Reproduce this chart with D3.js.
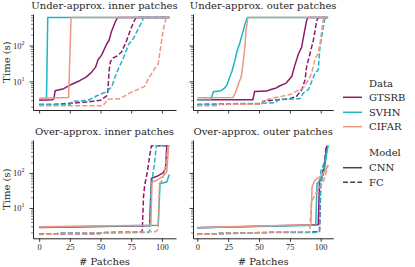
<!DOCTYPE html>
<html><head><meta charset="utf-8">
<script src="https://cdn.jsdelivr.net/npm/d3@7"></script>
<style>
html,body{margin:0;padding:0;background:#fff;}
svg{display:block;}
text{font-family:"DejaVu Serif",serif;fill:#262626;}
.tick text{font-family:"Liberation Serif",serif;}
</style></head>
<body><svg id="c" width="415" height="267"></svg>
<script>
// ---------- data ----------
const datasets = ["GTSRB", "SVHN", "CIFAR"];
const models = ["CNN", "FC"];
const panelTitles = ["Under-approx. inner patches", "Under-approx. outer patches",
                     "Over-approx. inner patches", "Over-approx. outer patches"];
const xTicks = [0, 25, 50, 75, 100];
const yMajorTicks = [10, 100];
const yTickExponents = ["1", "2"];
const legendTitles = ["Data", "Model"];

// [# patches, time (s)] breakpoints
const UI_GTSRB_CNN = [[0,3.0],[11,3.1],[12,3.3],[13,5.5],[20,6.3],[24,7.5],[27,8.5],[33,10.5],[38,13],[42,17],[46,25],[48,40],[51,55],[55,110],[57,140],[59,250],[62,450],[64,600],[106,600]];
const UI_GTSRB_FC  = [[0,2.3],[12,2.3],[20,2.4],[40,2.7],[50,3.0],[55,4.0],[56,5.3],[57,20],[58,35],[60,45],[63,50],[67,65],[71,130],[74,250],[77,450],[79,600],[106,600]];
const UI_SVHN_CNN  = [[0,3.2],[6,3.2],[7,600],[106,600]];
const UI_SVHN_FC   = [[0,2.3],[25,2.3],[27,2.8],[40,3.0],[47,4.0],[55,5.2],[59,7],[63,17],[69,48],[73,110],[76,140],[80,260],[84,480],[85,600],[106,600]];
const UI_CIFAR_CNN = [[0,3.4],[24,3.6],[26,600],[106,600]];
const UI_CIFAR_FC  = [[0,2.1],[52,2.1],[56,3.2],[66,3.3],[74,4.8],[86,7.3],[89,12],[95,25],[97,31],[99,90],[101,260],[103.5,600],[106,600]];

const UO_GTSRB_CNN = [[0,3.1],[45,3.1],[46.5,5.3],[56,5.4],[59,5.9],[64,6.6],[67,7.6],[72,9],[76.5,13.7],[79,28],[82,59],[84.5,89],[86.5,210],[88.5,480],[89.5,600],[106,600]];
const UO_GTSRB_FC  = [[0,2.3],[52,2.4],[53.5,2.85],[75,3.3],[80.5,3.9],[84.6,5.9],[87.3,11],[88.6,26],[91.3,59],[94,138],[95.4,258],[96.7,480],[98,600],[106,600]];
const UO_SVHN_CNN  = [[0,3.1],[11,3.2],[13,5.2],[19,5.5],[22,6.5],[24,8],[26.5,13.7],[28,19],[30.5,39],[32,66],[34.6,123],[36.5,210],[38.6,390],[40.5,600],[106,600]];
const UO_SVHN_FC   = [[0,2.3],[17,2.3],[18,2.4],[50,2.45],[64,2.6],[65.5,3.2],[83,3.3],[86,4.8],[90,5.9],[95.4,17],[98,21],[99.4,89],[100.8,170],[102,316],[103.5,600],[106,600]];
const UO_CIFAR_CNN = [[0,3.5],[29,3.6],[31,5],[34,10],[35.5,13],[37,30],[38.5,90],[39.5,260],[41,600],[106,600]];
const UO_CIFAR_FC  = [[0,2.1],[17,2.1],[18,2.3],[52,2.35],[53,2.85],[59,3.3],[75,4.3],[80,5.3],[86,6.6],[90,11],[92.7,17],[95.4,43],[98,59],[99.4,111],[100.8,258],[102,500],[103,600],[106,600]];

const OI_GTSRB_CNN = [[0,2.75],[90,3.1],[91.5,70],[96,80],[101,100],[103,135],[104,600],[106,600]];
const OI_GTSRB_FC  = [[0,1.8],[50,1.85],[52,2.0],[75,2.02],[84,2.1],[85,20],[86,45],[88,100],[90,300],[91.5,600],[106,600]];
const OI_SVHN_CNN  = [[0,2.8],[97,3.2],[98.5,50],[104,55],[106,90]];
const OI_SVHN_FC   = [[0,1.8],[14,1.82],[16,1.95],[50,1.97],[89,2.0],[90,2.2],[91,30],[92.5,80],[94,200],[95.5,600],[106,600]];
const OI_CIFAR_CNN = [[0,2.9],[91,3.2],[92,55],[96,62],[101,80],[104,110],[105.5,600],[106,600]];
const OI_CIFAR_FC  = [[0,1.75],[15,1.78],[17,1.9],[75,1.95],[77,2.05],[95,2.1],[97,2.5],[98,50],[100,60],[102,100],[104,300],[105,600],[106,600]];

const OO_GTSRB_CNN = [[0,2.7],[98,3.3],[99,60],[102,90],[104,300],[105,600]];
const OO_GTSRB_FC  = [[0,1.8],[25,1.85],[53,2.0],[99,2.1],[100,40],[101.5,100],[103,200],[104.5,600]];
const OO_SVHN_CNN  = [[0,2.7],[96,3.2],[97,50],[100,60],[103,120],[105,400],[106,600]];
const OO_SVHN_FC   = [[0,1.8],[17,1.8],[18,1.95],[95,2.0],[99,2.1],[100,110],[103,200],[106,600]];
const OO_CIFAR_CNN = [[0,2.75],[92,3.3],[93,40],[95,60],[100,80],[104,120],[106,170]];
const OO_CIFAR_FC  = [[0,1.75],[17,1.8],[18,1.9],[55,1.95],[57,2.05],[91,2.1],[92.5,15],[97,30],[102,55],[105,120],[106,170]];

const panelSeries = [
  [UI_GTSRB_CNN, UI_GTSRB_FC, UI_SVHN_CNN, UI_SVHN_FC, UI_CIFAR_CNN, UI_CIFAR_FC],
  [UO_GTSRB_CNN, UO_GTSRB_FC, UO_SVHN_CNN, UO_SVHN_FC, UO_CIFAR_CNN, UO_CIFAR_FC],
  [OI_GTSRB_CNN, OI_GTSRB_FC, OI_SVHN_CNN, OI_SVHN_FC, OI_CIFAR_CNN, OI_CIFAR_FC],
  [OO_GTSRB_CNN, OO_GTSRB_FC, OO_SVHN_CNN, OO_SVHN_FC, OO_CIFAR_CNN, OO_CIFAR_FC]
];

// ---------- style / layout ----------
const colors = {GTSRB:"#8c1c70", SVHN:"#1fb5c2", CIFAR:"#eb9880"};
const dash = {CNN:null, FC:"5,2.2"};
const ink = "#262626";
const layout = [
  {x0:33,  x1:176,   y0:14,  y1:110,   xd:[-5,111.5],  yd:[1.61,750], row:0, col:0},
  {x0:193, x1:333.3, y0:14,  y1:110,   xd:[-3.5,110.2],yd:[1.61,750], row:0, col:1},
  {x0:33,  x1:176,   y0:140, y1:238.3, xd:[-5,111.5],  yd:[1.36,871], row:1, col:0},
  {x0:193, x1:333.3, y0:140, y1:238.3, xd:[-3.5,110.2],yd:[1.36,871], row:1, col:1}
];

const svg = d3.select("#c");

layout.forEach((L, pi) => {
  const x = d3.scaleLinear().domain(L.xd).range([L.x0, L.x1]);
  const y = d3.scaleLog().domain(L.yd).range([L.y1, L.y0]);
  const g = svg.append("g");

  // minor y ticks
  const minor = [];
  for (let e = 0; e <= 3; e++) for (let m = 2; m <= 9; m++) {
    const v = m * Math.pow(10, e);
    if (v >= L.yd[0] && v <= L.yd[1]) minor.push(v);
  }
  const ym = g.append("g").attr("transform", `translate(${L.x0},0)`)
    .call(d3.axisLeft(y).tickValues(minor).tickSize(2).tickSizeOuter(0).tickFormat(""));
  ym.select(".domain").remove();
  ym.selectAll("line").attr("stroke", ink).attr("stroke-width", 0.6);

  // major y ticks + spine
  const yM = g.append("g").attr("transform", `translate(${L.x0},0)`)
    .call(d3.axisLeft(y).tickValues(yMajorTicks).tickSize(3.5).tickSizeOuter(0).tickFormat(""));
  yM.select(".domain").attr("stroke", ink).attr("stroke-width", 1);
  yM.selectAll("line").attr("stroke", ink).attr("stroke-width", 0.9);
  if (L.col === 0) {
    yMajorTicks.forEach((v, i) => {
      const t = g.append("text").attr("x", L.x0 - 8.5).attr("y", y(v) + 3.5)
        .attr("text-anchor", "end").attr("font-size", 8.5)
        .style("font-family", "Liberation Serif, serif").text("10");
      t.append("tspan").attr("dy", -4).attr("font-size", 6).text(yTickExponents[i]);
    });
  }

  // x axis
  const xa = g.append("g").attr("transform", `translate(0,${L.y1})`)
    .call(d3.axisBottom(x).tickValues(xTicks).tickSize(3.5).tickSizeOuter(0).tickPadding(2.5)
      .tickFormat(L.row === 1 ? d3.format("d") : ""));
  xa.select(".domain").attr("stroke", ink).attr("stroke-width", 1);
  xa.selectAll("line").attr("stroke", ink).attr("stroke-width", 0.9);
  xa.selectAll("text").attr("font-size", 8.5).attr("fill", ink)
    .style("font-family", "Liberation Serif, serif");

  // title
  g.append("text").attr("x", (L.x0 + L.x1) / 2).attr("y", L.row === 0 ? 8.5 : 135)
    .attr("text-anchor", "middle").attr("font-size", 10).text(panelTitles[pi]);

  // lines
  const line = d3.line().x(d => x(d[0])).y(d => y(d[1]));
  const clipId = "clip" + pi;
  svg.append("clipPath").attr("id", clipId).append("rect")
    .attr("x", L.x0).attr("y", L.y0 - 2).attr("width", L.x1 - L.x0).attr("height", L.y1 - L.y0 + 2);
  const lg = g.append("g").attr("clip-path", `url(#${clipId})`);
  datasets.forEach((ds, di) => {
    models.forEach((md, mi) => {
      const pts = panelSeries[pi][di * 2 + mi];
      lg.append("path").datum(pts).attr("d", line)
        .attr("fill", "none").attr("stroke", colors[ds]).attr("stroke-width", 1.5)
        .attr("stroke-dasharray", dash[md]).attr("stroke-linejoin", "round");
    });
  });

  // axis labels
  if (L.col === 0) {
    g.append("text").attr("transform", `translate(9.5,${(L.y0 + L.y1) / 2}) rotate(-90)`)
      .attr("text-anchor", "middle").attr("font-size", 10).text("Time (s)");
  }
  if (L.row === 1) {
    g.append("text").attr("x", (L.x0 + L.x1) / 2).attr("y", 265)
      .attr("text-anchor", "middle").attr("font-size", 10).text("# Patches");
  }
});

// ---------- legend ----------
const lgd = svg.append("g");
const lx0 = 343, lx1 = 362, tx = 369;
lgd.append("text").attr("x", tx).attr("y", 87).attr("font-size", 10).text(legendTitles[0]);
const dataRows = [97.3, 112.3, 126.7];
datasets.forEach((ds, i) => {
  lgd.append("line").attr("x1", lx0).attr("x2", lx1).attr("y1", dataRows[i]).attr("y2", dataRows[i])
    .attr("stroke", colors[ds]).attr("stroke-width", 1.5);
  lgd.append("text").attr("x", tx).attr("y", dataRows[i] + 3.5).attr("font-size", 10).text(ds);
});
lgd.append("text").attr("x", tx).attr("y", 155.5).attr("font-size", 10).text(legendTitles[1]);
const modelRows = [167.7, 182.3];
models.forEach((md, i) => {
  lgd.append("line").attr("x1", lx0).attr("x2", lx1).attr("y1", modelRows[i]).attr("y2", modelRows[i])
    .attr("stroke", "#444").attr("stroke-width", 1.5).attr("stroke-dasharray", dash[md]);
  lgd.append("text").attr("x", tx).attr("y", modelRows[i] + 3.5).attr("font-size", 10).text(md);
});
</script></body></html>
